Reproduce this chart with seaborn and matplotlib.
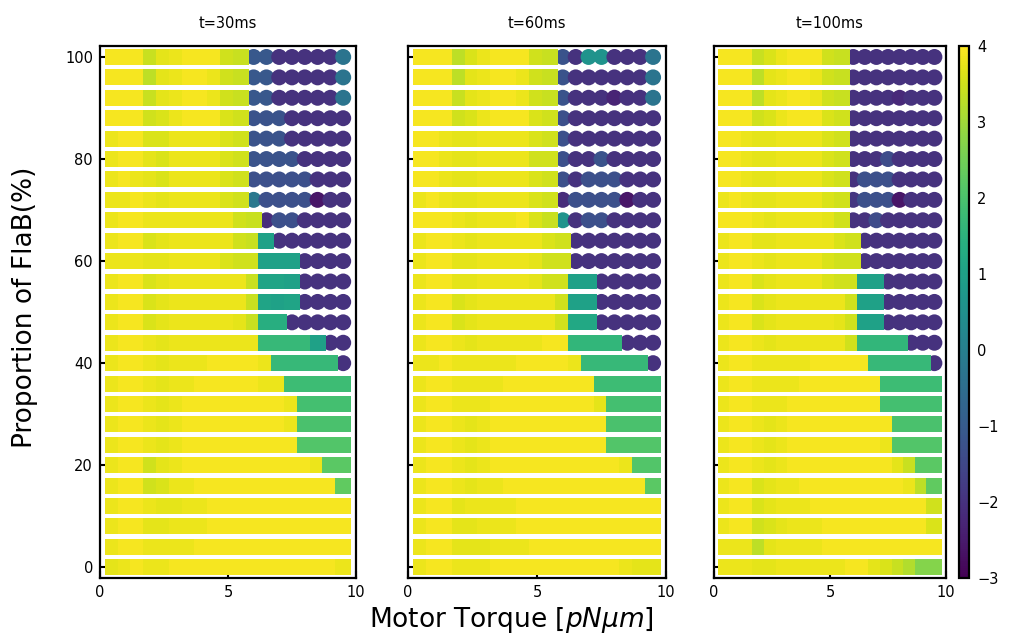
import numpy as np
import pandas as pd
import matplotlib
matplotlib.use("Agg")
import matplotlib.pyplot as plt
import seaborn as sns
from matplotlib.colors import Normalize
from matplotlib.cm import ScalarMappable

# Motor torque grid (pN·µm) and FlaB proportion grid (%)
torque = [0.5, 1.0, 1.5, 2.0, 2.5, 3.0, 3.5, 4.0, 4.5, 5.0,
          5.5, 6.0, 6.5, 7.0, 7.5, 8.0, 8.5, 9.0, 9.5]
flab = [100, 96, 92, 88, 84, 80, 76, 72, 68, 64, 60, 56, 52,
        48, 44, 40, 36, 32, 28, 24, 20, 16, 12, 8, 4, 0]

titles = ["t=30ms", "t=60ms", "t=100ms"]

# log-scale swimming measure, one row per FlaB level (top row = 100 %)
vals_30ms = [
    [3.9, 3.9, 3.9, 3.4, 3.7, 3.8, 3.9, 3.9, 3.9, 3.5, 3.4, -1.1, -1.1, -2.0, -2.0, -2.0, -2.0, -2.0, -0.3],
    [3.9, 3.9, 3.9, 3.3, 3.7, 3.8, 3.9, 3.9, 3.8, 3.5, 3.4, -1.1, -1.1, -2.0, -2.0, -2.0, -2.0, -2.0, -0.3],
    [3.9, 3.9, 3.9, 3.4, 3.7, 3.8, 3.9, 3.9, 3.8, 3.5, 3.4, -1.1, -1.1, -2.0, -2.0, -2.0, -2.0, -2.0, -0.3],
    [3.9, 3.9, 3.9, 3.5, 3.6, 3.8, 3.9, 3.9, 3.9, 3.6, 3.5, -1.2, -1.2, -1.2, -2.0, -2.0, -2.0, -2.0, -2.0],
    [3.8, 3.9, 3.9, 3.6, 3.6, 3.8, 3.8, 3.8, 3.8, 3.6, 3.5, -1.2, -1.2, -1.2, -2.0, -2.0, -2.0, -2.0, -2.0],
    [3.8, 3.9, 3.9, 3.7, 3.6, 3.8, 3.8, 3.8, 3.8, 3.6, 3.5, -1.2, -1.2, -1.2, -1.2, -2.0, -2.0, -2.0, -2.0],
    [3.8, 3.9, 3.8, 3.7, 3.6, 3.8, 3.8, 3.8, 3.8, 3.6, 3.5, -1.3, -1.3, -1.3, -1.3, -1.3, -2.0, -2.0, -2.0],
    [3.8, 3.8, 3.9, 3.8, 3.7, 3.8, 3.8, 3.8, 3.8, 3.6, 3.5, -0.2, -1.3, -1.3, -1.3, -1.3, -2.6, -2.0, -2.0],
    [3.8, 3.9, 3.9, 3.8, 3.8, 3.8, 3.8, 3.8, 3.8, 3.8, 3.5, 3.4, -2.1, -1.3, -1.3, -2.0, -2.0, -2.0, -2.0],
    [3.8, 3.9, 3.9, 3.6, 3.7, 3.8, 3.8, 3.8, 3.8, 3.8, 3.5, 3.4, 1.0, -2.0, -2.0, -2.0, -2.0, -2.0, -2.0],
    [3.8, 3.8, 3.8, 3.7, 3.7, 3.8, 3.8, 3.8, 3.8, 3.6, 3.5, 3.5, 1.0, 1.0, 1.0, -2.0, -2.0, -2.0, -2.0],
    [3.8, 3.9, 3.9, 3.6, 3.7, 3.8, 3.8, 3.8, 3.8, 3.8, 3.8, 3.4, 1.1, 1.1, 1.0, -2.0, -2.0, -2.0, -2.0],
    [3.8, 3.9, 3.9, 3.6, 3.7, 3.8, 3.8, 3.8, 3.8, 3.8, 3.8, 3.4, 1.1, 1.0, 1.1, -2.0, -2.0, -2.0, -2.0],
    [3.8, 3.9, 3.9, 3.6, 3.7, 3.8, 3.8, 3.8, 3.8, 3.8, 3.7, 3.4, 1.4, 1.4, -2.0, -2.0, -2.0, -2.0, -2.0],
    [3.8, 3.9, 3.9, 3.8, 3.7, 3.8, 3.8, 3.8, 3.8, 3.8, 3.8, 3.8, 1.7, 1.7, 1.7, 1.7, 1.0, -2.0, -2.0],
    [3.8, 3.9, 3.9, 3.8, 3.7, 3.8, 3.8, 3.8, 3.9, 3.9, 3.9, 3.9, 3.8, 1.7, 1.7, 1.7, 1.7, 1.7, -2.0],
    [3.8, 3.9, 3.9, 3.8, 3.7, 3.8, 3.8, 3.9, 3.9, 3.9, 3.9, 3.9, 3.8, 3.8, 1.8, 1.8, 1.8, 1.8, 1.8],
    [3.8, 3.9, 3.9, 3.8, 3.7, 3.8, 3.9, 3.9, 3.9, 3.9, 3.9, 3.9, 3.9, 3.9, 3.8, 1.9, 1.9, 1.9, 1.9],
    [3.8, 3.9, 3.9, 3.8, 3.7, 3.8, 3.9, 3.9, 3.9, 3.9, 3.9, 3.9, 3.9, 3.9, 3.8, 2.0, 2.0, 2.0, 2.0],
    [3.8, 3.9, 3.9, 3.8, 3.7, 3.8, 3.9, 3.9, 3.9, 3.9, 3.9, 3.9, 3.9, 3.9, 3.9, 2.1, 2.1, 2.1, 2.1],
    [3.8, 3.9, 3.9, 3.5, 3.7, 3.8, 3.9, 3.9, 3.9, 3.9, 3.9, 3.9, 3.9, 3.9, 3.9, 3.9, 3.8, 2.2, 2.2],
    [3.8, 3.9, 3.9, 3.5, 3.6, 3.8, 3.8, 3.9, 3.9, 3.9, 3.9, 3.9, 3.9, 3.9, 3.9, 3.9, 3.9, 3.9, 2.3],
    [3.8, 3.9, 3.9, 3.8, 3.7, 3.7, 3.8, 3.8, 3.9, 3.9, 3.9, 3.9, 3.9, 3.9, 3.9, 3.9, 3.9, 3.9, 3.9],
    [3.8, 3.9, 3.9, 3.7, 3.7, 3.8, 3.8, 3.8, 3.9, 3.9, 3.9, 3.9, 3.9, 3.9, 3.9, 3.9, 3.9, 3.9, 3.9],
    [3.8, 3.9, 3.9, 3.8, 3.8, 3.8, 3.8, 3.9, 3.9, 3.9, 3.9, 3.9, 3.9, 3.9, 3.9, 3.9, 3.9, 3.9, 3.9],
    [3.7, 3.8, 3.9, 3.8, 3.8, 3.9, 3.9, 3.9, 3.9, 3.9, 3.9, 3.9, 3.9, 3.9, 3.9, 3.9, 3.9, 3.9, 3.8],
]

vals_60ms = [
    [3.9, 3.9, 3.9, 3.3, 3.6, 3.8, 3.9, 3.9, 3.9, 3.5, 3.4, -1.2, -2.0, 0.6, 0.6, -2.0, -2.0, -2.0, -0.3],
    [3.9, 3.9, 3.9, 3.3, 3.7, 3.8, 3.9, 3.9, 3.8, 3.5, 3.4, -1.2, -2.0, -2.0, -2.0, -2.0, -2.0, -2.0, -0.3],
    [3.9, 3.9, 3.9, 3.4, 3.7, 3.8, 3.9, 3.9, 3.8, 3.5, 3.4, -1.2, -2.0, -2.0, -2.0, -2.3, -2.0, -2.0, -0.3],
    [3.9, 3.9, 3.9, 3.5, 3.6, 3.8, 3.9, 3.9, 3.9, 3.6, 3.5, -1.3, -2.0, -2.0, -2.0, -2.0, -2.0, -2.0, -2.0],
    [3.9, 3.9, 3.8, 3.7, 3.7, 3.8, 3.8, 3.8, 3.8, 3.6, 3.5, -1.3, -2.0, -2.0, -2.0, -2.0, -2.0, -2.0, -2.0],
    [3.9, 3.9, 3.8, 3.7, 3.7, 3.8, 3.8, 3.8, 3.8, 3.5, 3.5, -1.3, -2.0, -2.0, -1.2, -2.0, -2.0, -2.0, -2.0],
    [3.9, 3.9, 3.8, 3.7, 3.7, 3.8, 3.8, 3.8, 3.8, 3.6, 3.5, -1.3, -2.0, -1.3, -1.3, -1.3, -2.0, -2.0, -2.0],
    [3.8, 3.9, 3.8, 3.7, 3.7, 3.8, 3.8, 3.8, 3.8, 3.6, 3.5, -2.1, -1.3, -1.3, -1.3, -1.3, -2.6, -2.0, -2.0],
    [3.9, 3.9, 3.9, 3.8, 3.7, 3.8, 3.8, 3.8, 3.9, 3.6, 3.4, 0.6, -2.0, -1.3, -1.3, -2.0, -2.0, -2.0, -2.0],
    [3.8, 3.9, 3.9, 3.8, 3.7, 3.8, 3.8, 3.8, 3.8, 3.8, 3.6, 3.5, -2.0, -2.0, -2.0, -2.0, -2.0, -2.0, -2.0],
    [3.8, 3.9, 3.9, 3.7, 3.7, 3.8, 3.8, 3.8, 3.8, 3.7, 3.5, 3.5, -2.0, -2.0, -2.0, -2.0, -2.0, -2.0, -2.0],
    [3.8, 3.9, 3.9, 3.7, 3.7, 3.8, 3.8, 3.8, 3.8, 3.7, 3.5, 3.5, 1.0, 1.0, -2.0, -2.0, -2.0, -2.0, -2.0],
    [3.8, 3.9, 3.9, 3.6, 3.7, 3.8, 3.8, 3.8, 3.8, 3.8, 3.8, 3.5, 1.0, 1.0, -2.0, -2.0, -2.0, -2.0, -2.0],
    [3.8, 3.9, 3.9, 3.6, 3.7, 3.8, 3.8, 3.8, 3.8, 3.8, 3.8, 3.5, 1.2, 1.2, -2.0, -2.0, -2.0, -2.0, -2.0],
    [3.8, 3.9, 3.9, 3.8, 3.7, 3.8, 3.8, 3.8, 3.8, 3.8, 3.9, 3.9, 1.6, 1.6, 1.6, 1.6, -2.0, -2.0, -2.0],
    [3.8, 3.8, 3.9, 3.8, 3.8, 3.8, 3.8, 3.8, 3.9, 3.9, 3.9, 3.9, 3.8, 1.7, 1.7, 1.7, 1.7, 1.7, -2.0],
    [3.8, 3.9, 3.9, 3.8, 3.8, 3.8, 3.8, 3.9, 3.9, 3.9, 3.9, 3.9, 3.9, 3.9, 1.8, 1.8, 1.8, 1.8, 1.8],
    [3.8, 3.9, 3.9, 3.8, 3.8, 3.8, 3.9, 3.9, 3.9, 3.9, 3.9, 3.9, 3.9, 3.9, 3.7, 1.9, 1.9, 1.9, 1.9],
    [3.8, 3.9, 3.9, 3.8, 3.7, 3.8, 3.9, 3.9, 3.9, 3.9, 3.9, 3.9, 3.9, 3.9, 3.9, 2.0, 2.0, 2.0, 2.0],
    [3.8, 3.9, 3.9, 3.8, 3.7, 3.8, 3.9, 3.9, 3.9, 3.9, 3.9, 3.9, 3.9, 3.9, 3.9, 2.1, 2.1, 2.1, 2.1],
    [3.8, 3.9, 3.9, 3.8, 3.7, 3.8, 3.9, 3.9, 3.9, 3.9, 3.9, 3.9, 3.9, 3.9, 3.9, 3.9, 3.8, 2.1, 2.1],
    [3.8, 3.9, 3.9, 3.8, 3.7, 3.8, 3.8, 3.9, 3.9, 3.9, 3.9, 3.9, 3.9, 3.9, 3.9, 3.9, 3.9, 3.9, 2.2],
    [3.8, 3.9, 3.9, 3.7, 3.8, 3.8, 3.8, 3.8, 3.9, 3.9, 3.9, 3.9, 3.9, 3.9, 3.9, 3.9, 3.9, 3.9, 3.9],
    [3.8, 3.9, 3.9, 3.7, 3.7, 3.8, 3.8, 3.8, 3.9, 3.9, 3.9, 3.9, 3.9, 3.9, 3.9, 3.9, 3.9, 3.9, 3.9],
    [3.8, 3.9, 3.9, 3.7, 3.7, 3.7, 3.8, 3.8, 3.8, 3.9, 3.9, 3.9, 3.9, 3.9, 3.9, 3.9, 3.9, 3.9, 3.9],
    [3.8, 3.9, 3.9, 3.8, 3.8, 3.8, 3.9, 3.9, 3.9, 3.9, 3.9, 3.9, 3.9, 3.9, 3.9, 3.9, 3.8, 3.7, 3.7],
]

vals_100ms = [
    [3.9, 3.9, 3.9, 3.4, 3.6, 3.8, 3.9, 3.9, 3.9, 3.5, 3.4, -2.0, -2.0, -2.0, -2.0, -2.0, -2.0, -2.0, -2.0],
    [3.9, 3.9, 3.9, 3.3, 3.7, 3.8, 3.9, 3.9, 3.8, 3.5, 3.4, -2.0, -2.0, -2.0, -2.0, -2.0, -2.0, -2.0, -2.0],
    [3.9, 3.9, 3.9, 3.3, 3.7, 3.8, 3.9, 3.9, 3.8, 3.5, 3.4, -2.0, -2.0, -2.0, -2.0, -2.2, -2.0, -2.0, -2.0],
    [3.9, 3.9, 3.9, 3.5, 3.6, 3.8, 3.9, 3.9, 3.9, 3.6, 3.5, -2.0, -2.0, -2.0, -2.0, -2.0, -2.0, -2.0, -2.0],
    [3.9, 3.9, 3.8, 3.7, 3.7, 3.8, 3.8, 3.8, 3.8, 3.6, 3.5, -2.0, -2.0, -2.0, -2.0, -2.0, -2.0, -2.0, -2.0],
    [3.9, 3.9, 3.8, 3.7, 3.7, 3.8, 3.8, 3.8, 3.8, 3.6, 3.5, -2.0, -2.0, -2.0, -1.4, -2.0, -2.0, -2.0, -2.0],
    [3.9, 3.9, 3.8, 3.7, 3.7, 3.8, 3.8, 3.8, 3.8, 3.6, 3.5, -2.0, -1.3, -1.3, -1.3, -2.0, -2.0, -2.0, -2.0],
    [3.8, 3.9, 3.8, 3.7, 3.7, 3.8, 3.8, 3.8, 3.8, 3.6, 3.5, -1.9, -1.3, -1.3, -1.3, -2.6, -2.0, -2.0, -2.0],
    [3.9, 3.9, 3.9, 3.8, 3.7, 3.8, 3.8, 3.8, 3.8, 3.7, 3.5, -2.0, -2.0, -1.4, -2.0, -2.0, -2.0, -2.0, -2.0],
    [3.8, 3.9, 3.9, 3.7, 3.7, 3.8, 3.8, 3.8, 3.8, 3.8, 3.6, 3.5, -2.0, -2.0, -2.0, -2.0, -2.0, -2.0, -2.0],
    [3.8, 3.9, 3.9, 3.8, 3.7, 3.8, 3.8, 3.8, 3.8, 3.6, 3.5, 3.5, -2.0, -2.0, -2.0, -2.0, -2.0, -2.0, -2.0],
    [3.8, 3.9, 3.9, 3.6, 3.7, 3.8, 3.8, 3.8, 3.8, 3.6, 3.5, 3.5, 1.0, 1.0, -2.0, -2.0, -2.0, -2.0, -2.0],
    [3.8, 3.9, 3.9, 3.6, 3.7, 3.8, 3.8, 3.8, 3.8, 3.8, 3.8, 3.5, 1.0, 1.0, -2.0, -2.0, -2.0, -2.0, -2.0],
    [3.8, 3.9, 3.9, 3.6, 3.7, 3.8, 3.8, 3.8, 3.8, 3.8, 3.7, 3.5, 1.0, 1.0, -2.0, -2.0, -2.0, -2.0, -2.0],
    [3.8, 3.9, 3.9, 3.8, 3.7, 3.8, 3.8, 3.8, 3.8, 3.8, 3.8, 3.5, 1.6, 1.6, 1.6, 1.6, -2.0, -2.0, -2.0],
    [3.8, 3.9, 3.9, 3.8, 3.8, 3.8, 3.8, 3.8, 3.9, 3.9, 3.9, 3.9, 3.9, 1.7, 1.7, 1.7, 1.7, 1.7, -2.0],
    [3.8, 3.9, 3.9, 3.8, 3.8, 3.8, 3.8, 3.9, 3.9, 3.9, 3.9, 3.9, 3.9, 3.9, 1.8, 1.8, 1.8, 1.8, 1.8],
    [3.8, 3.9, 3.9, 3.8, 3.8, 3.8, 3.9, 3.9, 3.9, 3.9, 3.9, 3.9, 3.9, 3.9, 1.9, 1.9, 1.9, 1.9, 1.9],
    [3.8, 3.9, 3.9, 3.8, 3.7, 3.8, 3.9, 3.9, 3.9, 3.9, 3.9, 3.9, 3.9, 3.9, 3.9, 2.0, 2.0, 2.0, 2.0],
    [3.8, 3.9, 3.9, 3.8, 3.7, 3.8, 3.9, 3.9, 3.9, 3.9, 3.9, 3.9, 3.9, 3.9, 3.8, 2.1, 2.1, 2.1, 2.1],
    [3.8, 3.9, 3.9, 3.8, 3.7, 3.8, 3.9, 3.9, 3.9, 3.9, 3.9, 3.9, 3.9, 3.9, 3.9, 3.7, 3.4, 2.2, 2.2],
    [3.8, 3.9, 3.9, 3.6, 3.7, 3.8, 3.8, 3.9, 3.9, 3.9, 3.9, 3.9, 3.9, 3.9, 3.9, 3.9, 3.8, 3.3, 2.3],
    [3.8, 3.9, 3.9, 3.6, 3.7, 3.8, 3.8, 3.8, 3.9, 3.9, 3.9, 3.9, 3.9, 3.9, 3.9, 3.9, 3.9, 3.9, 3.5],
    [3.8, 3.9, 3.9, 3.5, 3.6, 3.7, 3.8, 3.8, 3.8, 3.9, 3.9, 3.9, 3.9, 3.9, 3.9, 3.9, 3.9, 3.9, 3.6],
    [3.8, 3.8, 3.8, 3.3, 3.7, 3.8, 3.8, 3.8, 3.8, 3.9, 3.9, 3.9, 3.9, 3.9, 3.9, 3.9, 3.9, 3.9, 3.9],
    [3.8, 3.8, 3.8, 3.7, 3.7, 3.8, 3.8, 3.8, 3.8, 3.8, 3.8, 3.9, 3.9, 3.7, 3.6, 3.4, 3.2, 2.7, 2.7],
]

panels = [vals_30ms, vals_60ms, vals_100ms]

# values below this are plotted as round markers, the rest as squares
round_below = 0.8
vmin, vmax = -3, 4

sns.set_style("white")
plt.rcParams["font.family"] = ["DejaVu Sans"]
plt.rcParams["mathtext.fontset"] = "dejavusans"
for key in ("text.color", "axes.labelcolor", "xtick.color", "ytick.color",
            "xtick.labelcolor", "ytick.labelcolor"):
    plt.rcParams[key] = "black"

W, H = 1018, 640
fig = plt.figure(figsize=(W / 100, H / 100), dpi=100)

def frac_box(x0, x1, y0, y1):
    return [x0 / W, 1 - y1 / H, (x1 - x0) / W, (y1 - y0) / H]

boxes = [(100, 356), (408, 666), (714, 946)]
top_px, bot_px = 46, 578
axes = [fig.add_axes(frac_box(a, b, top_px, bot_px)) for a, b in boxes]
cax = fig.add_axes(frac_box(959, 969, top_px, bot_px))

norm = Normalize(vmin=vmin, vmax=vmax)
marker_area = 132

for k, (ax, title, grid) in enumerate(zip(axes, titles, panels)):
    records = []
    for yv, row in zip(flab, grid):
        for xv, v in zip(torque, row):
            records.append((xv, yv, v))
    df = pd.DataFrame(records, columns=["torque", "flab", "value"])
    circles = df[df["value"] < round_below].sort_values("torque", kind="stable")
    squares = df[df["value"] >= round_below].sort_values("torque", kind="stable")
    for part, mk in ((circles, "o"), (squares, "s")):
        if len(part):
            sns.scatterplot(data=part, x="torque", y="flab", hue="value",
                            palette="viridis", hue_norm=(vmin, vmax),
                            marker=mk, s=marker_area, linewidth=0,
                            edgecolor="none", legend=False, ax=ax)
    ax.set_xlim(0, 10)
    ax.set_ylim(-2.1, 102.15)
    ax.set_xticks([0, 5, 10])
    ax.set_yticks([0, 20, 40, 60, 80, 100])
    ax.set_xlabel("")
    ax.set_ylabel("")
    ax.set_title(title, fontsize=10.5, pad=13, color="black")
    ax.tick_params(axis="both", direction="in", length=5, width=1.5,
                   labelsize=10.5, color="black", labelcolor="black", pad=5,
                   bottom=True, left=True, top=False, right=False)
    if k > 0:
        ax.tick_params(axis="y", labelleft=False)
    for sp in ax.spines.values():
        sp.set_visible(True)
        sp.set_color("black")
        sp.set_linewidth(1.6)

sm = ScalarMappable(norm=norm, cmap="viridis")
cb = fig.colorbar(sm, cax=cax, ticks=list(range(vmin, vmax + 1)))
cb.outline.set_linewidth(1.6)
cb.outline.set_edgecolor("black")
cax.tick_params(length=0, labelsize=10.5, pad=6, labelcolor="black")

fig.text(25 / W, 1 - 307 / H, "Proportion of FlaB(%)", rotation=90,
         ha="center", va="center", fontsize=19, color="black")
fig.text(511 / W, 1 - 620 / H, r"Motor Torque [$pN\mu m$]",
         ha="center", va="center", fontsize=19, color="black")

fig.savefig("out.png", dpi=100)
